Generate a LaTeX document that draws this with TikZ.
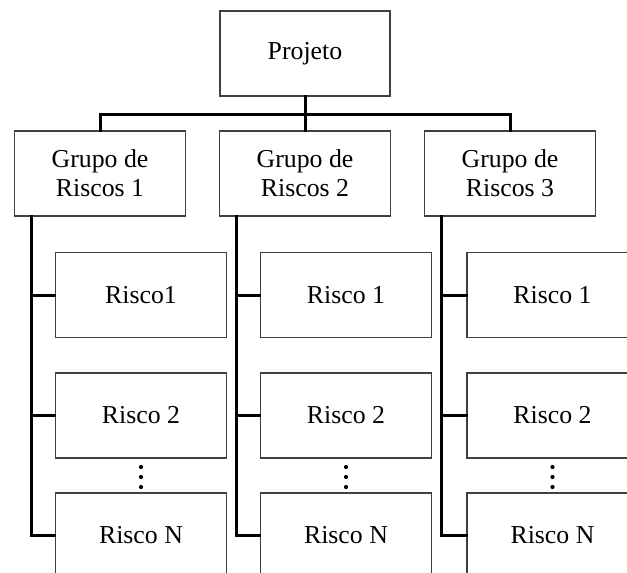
\documentclass[tikz,border=0pt]{standalone}
\usepackage{fontspec}
\setmainfont{Liberation Serif}
\begin{document}
\begin{tikzpicture}[x=1pt,y=-1pt,
  box/.style={draw=black!75, line width=1.1pt, fill=white, minimum width=171pt,
    minimum height=85pt, inner sep=0pt, align=center,
    font=\fontsize{25.8}{29}\selectfont},
  conn/.style={line width=3pt, line cap=rect}]
\clip (0,0) rectangle (627,573);
% top level
\node[box, minimum width=170pt] (proj) at (305,53.5) {Projeto};
% risk groups
\node[box] (g1) at (100,173.5) {Grupo de\\Riscos 1};
\node[box] (g2) at (305,173.5) {Grupo de\\Riscos 2};
\node[box] (g3) at (510,173.5) {Grupo de\\Riscos 3};
% risks of each group
\foreach \g/\x/\a in {1/141/Risco1, 2/346/Risco 1, 3/552.5/Risco 1}{
  \node[box] (r\g1) at (\x,295) {\a};
  \node[box] (r\g2) at (\x,415.5) {Risco 2};
  \node[box] (r\g n) at (\x,535.5) {Risco N};
  \foreach \d in {467,477,487} \fill (\x,\d) circle[radius=2.1pt];
}
% tree connectors
\coordinate (bar) at (0,114);
\draw[conn] (proj.south) -- (g2.north);
\draw[conn] (g1.north) -- (g1.north |- bar) -- (g3.north |- bar) -- (g3.north);
\foreach \g in {1,2,3}{
  \coordinate (t\g) at ([xshift=17.5pt]g\g.south west);
  \draw[conn] (t\g) |- (r\g n.west);
  \draw[conn] (t\g |- r\g1.west) -- (r\g1.west);
  \draw[conn] (t\g |- r\g2.west) -- (r\g2.west);
}
\end{tikzpicture}
\end{document}
